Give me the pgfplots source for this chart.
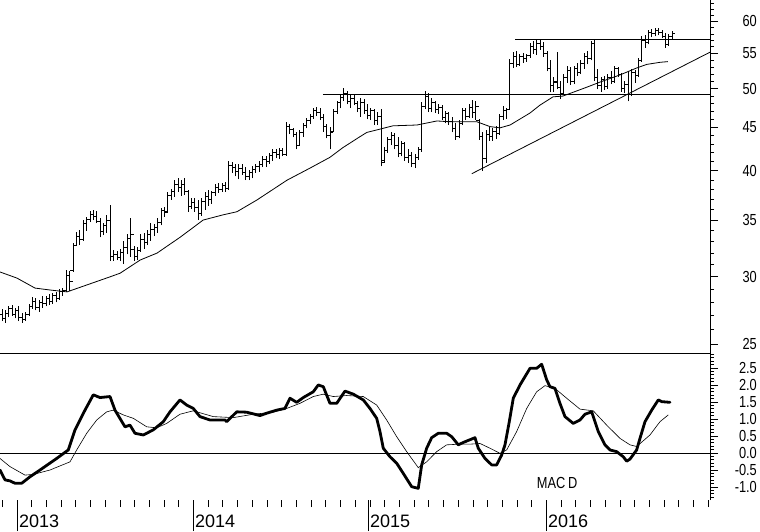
\documentclass[border=0pt]{standalone}
\usepackage{fontspec}
\setmainfont{Liberation Sans}
\newfontfamily\narrowfont[FakeStretch=0.8]{Liberation Sans}
\usepackage{pgfplots}
\usepackage{pgfplotstable}
\pgfplotsset{compat=1.18}
\pgfdeclareplotmark{otick}{\pgfpathmoveto{\pgfqpoint{-3pt}{0pt}}\pgfpathlineto{\pgfqpoint{0pt}{0pt}}\pgfusepathqstroke}
\pgfdeclareplotmark{ctick}{\pgfpathmoveto{\pgfqpoint{0pt}{0pt}}\pgfpathlineto{\pgfqpoint{3pt}{0pt}}\pgfusepathqstroke}

% weekly bars: week index, open, high, low, close
\pgfplotstableread{
i O H L C
0 27.1 27.5 26.6 26.8
1 26.8 27.4 26.5 27.2
2 27.2 27.7 26.9 27.5
3 27.5 27.8 27.0 27.1
4 27.1 27.6 26.8 27.4
5 27.4 27.7 26.6 26.9
6 26.9 27.2 26.5 26.7
7 26.7 27.3 26.6 27.1
8 27.1 27.9 27.0 27.7
9 27.7 28.4 27.5 28.1
10 28.1 28.3 27.4 27.6
11 27.6 28.2 27.3 28.0
12 28.0 28.5 27.6 27.9
13 27.9 28.5 27.7 28.3
14 28.3 28.6 27.8 28.1
15 28.1 28.7 27.9 28.5
16 28.5 28.8 28.0 28.3
17 28.3 29.0 28.2 28.8
18 28.8 29.1 28.5 28.9
19 28.9 30.6 28.8 30.1
20 30.1 30.5 28.9 29.6
21 30.5 32.9 30.4 32.7
22 32.7 33.9 32.6 33.5
23 33.5 34.1 32.7 33.2
24 33.2 35.0 33.1 34.7
25 34.7 35.3 34.0 35.1
26 35.1 35.9 34.8 35.5
27 35.5 36.0 35.0 35.3
28 35.3 35.9 34.7 34.9
29 34.9 35.2 33.4 33.9
30 33.9 34.7 33.6 34.5
31 34.5 35.5 33.8 35.0
32 35.0 36.5 31.3 31.7
33 31.7 32.3 31.3 31.9
34 31.9 32.2 31.4 31.6
35 31.6 32.4 31.3 32.1
36 32.1 33.1 31.1 32.5
37 32.5 33.7 31.9 33.3
38 33.3 35.2 31.7 33.7
39 32.3 32.6 31.3 31.7
40 31.7 32.5 31.4 32.2
41 32.2 33.7 32.1 33.2
42 33.2 33.8 32.4 32.9
43 32.9 34.1 32.7 33.7
44 33.7 34.7 33.1 34.1
45 34.1 34.6 33.5 34.3
46 34.3 35.2 33.8 34.8
47 34.8 36.2 34.5 35.9
48 35.9 36.3 35.3 35.7
49 35.8 37.8 35.7 37.4
50 37.4 38.1 37.0 37.8
51 37.8 39.0 37.3 38.6
52 38.6 39.2 37.8 38.2
53 38.2 39.0 37.4 38.6
54 38.6 39.2 37.5 37.8
55 37.8 38.0 35.8 36.3
56 36.3 37.2 36.1 36.7
57 36.7 37.2 35.8 36.2
58 36.2 37.0 35.0 35.6
59 35.6 37.2 35.4 36.8
60 36.8 37.8 36.0 37.3
61 37.3 38.0 36.4 37.0
62 37.0 37.9 36.6 37.7
63 37.7 38.6 37.4 38.2
64 38.2 38.7 37.7 38.0
65 38.0 38.7 37.8 38.4
66 38.4 38.8 37.8 38.1
67 38.1 41.1 38.0 40.6
68 40.6 41.0 39.8 40.4
69 40.4 40.8 39.4 39.9
70 39.9 40.7 39.1 40.3
71 40.3 40.8 39.6 39.8
72 39.8 40.4 39.0 39.4
73 39.4 40.1 39.0 39.8
74 39.8 40.5 39.2 40.1
75 40.1 40.8 39.8 40.5
76 40.5 41.1 39.9 40.7
77 40.7 41.7 40.4 41.3
78 41.3 41.6 40.4 41.0
79 41.0 42.0 40.8 41.7
80 41.7 42.4 41.1 42.1
81 42.1 42.5 41.4 41.8
82 41.8 42.6 41.3 42.3
83 42.3 42.6 41.6 41.8
84 41.8 45.7 41.7 45.1
85 45.1 45.4 44.2 44.7
86 44.7 44.9 43.8 44.1
87 44.1 44.5 42.4 42.9
88 42.9 44.7 42.8 44.4
89 44.4 45.5 43.9 45.2
90 45.2 46.2 44.9 45.9
91 45.9 46.7 45.4 46.4
92 46.4 47.4 46.1 47.1
93 47.1 47.6 46.4 46.9
94 46.9 47.5 45.9 46.2
95 46.2 46.7 44.5 45.1
96 45.1 45.4 43.7 44.0
97 44.0 45.1 42.4 44.4
98 44.5 47.3 44.4 47.0
99 47.0 48.4 46.7 48.1
100 48.1 49.1 47.4 48.8
101 48.8 50.1 48.4 49.4
102 49.4 49.7 47.9 48.3
103 48.3 49.2 47.5 48.7
104 48.7 49.1 47.8 48.0
105 48.0 48.3 46.9 47.4
106 47.4 48.8 46.3 48.2
107 48.2 48.6 46.7 47.1
108 47.1 47.9 46.0 46.5
109 46.5 47.5 45.9 47.1
110 47.1 47.3 45.3 45.9
111 45.9 46.9 45.3 46.4
112 46.4 47.3 40.5 40.9
113 41.1 42.7 40.9 42.3
114 42.3 43.9 42.0 43.5
115 43.5 44.5 42.9 44.0
116 44.0 44.3 42.4 42.9
117 42.9 43.8 41.5 41.9
118 41.9 43.4 41.6 43.1
119 43.1 43.3 41.1 41.5
120 41.5 42.4 40.9 41.7
121 41.7 42.1 40.4 40.8
122 40.8 41.9 40.3 41.5
123 41.5 42.7 41.2 42.4
124 42.4 48.2 42.1 47.7
125 47.7 49.7 47.3 48.9
126 48.9 49.4 46.9 47.4
127 47.4 48.7 46.9 48.2
128 48.2 48.4 46.8 47.2
129 47.2 48.0 46.7 47.5
130 47.5 47.8 45.9 46.3
131 46.3 47.1 45.5 46.7
132 46.7 46.9 45.3 45.7
133 45.7 46.3 44.4 44.9
134 44.9 45.5 43.5 43.9
135 43.9 45.9 43.7 45.5
136 45.5 47.5 45.3 47.1
137 47.1 47.4 45.9 46.4
138 46.4 47.9 46.2 47.5
139 47.5 48.5 46.2 46.9
140 46.9 48.3 45.9 47.7
141 45.9 46.1 43.5 43.9
142 43.9 44.5 40.0 41.4
143 41.4 44.7 40.9 44.1
144 44.1 45.1 43.4 43.9
145 43.9 44.9 43.4 44.5
146 44.5 45.2 43.6 44.3
147 44.3 46.7 44.1 46.4
148 46.4 47.7 45.9 47.1
149 47.1 47.5 46.1 47.3
150 47.3 54.2 47.2 53.6
151 53.6 55.2 52.9 54.6
152 54.6 55.4 53.0 53.4
153 53.4 55.0 53.2 54.5
154 54.5 55.1 53.6 54.2
155 54.2 55.0 53.8 54.7
156 54.7 56.6 54.4 56.1
157 56.1 56.9 55.0 55.6
158 55.6 57.0 54.8 56.5
159 56.5 57.1 55.6 56.0
160 56.0 56.8 54.5 55.0
161 55.0 55.4 52.4 52.8
162 52.8 54.0 49.5 50.4
163 50.4 51.6 49.6 50.8
164 51.0 55.2 49.9 50.2
165 50.2 51.0 48.6 49.4
166 49.4 52.0 49.2 51.6
167 51.6 53.2 50.8 52.5
168 52.5 53.0 50.5 51.0
169 51.0 53.2 50.6 52.8
170 52.8 53.6 51.8 52.2
171 52.2 54.0 52.0 53.6
172 53.6 55.1 52.8 54.6
173 54.6 55.4 53.4 54.2
174 54.2 56.9 54.0 56.5
175 56.5 57.2 51.0 51.5
176 51.5 52.7 49.9 50.4
177 50.4 51.6 49.6 51.2
178 51.2 51.8 49.8 50.3
179 50.3 52.0 50.0 51.6
180 51.6 52.4 50.6 51.0
181 51.0 53.2 50.8 52.8
182 52.8 53.0 51.6 52.0
183 52.0 52.2 49.6 50.0
184 50.0 51.0 49.4 50.6
185 50.6 52.4 48.3 49.2
186 49.2 52.7 49.0 52.2
187 52.2 52.6 50.8 51.8
188 51.8 54.3 51.6 54.0
189 54.0 57.6 53.8 57.0
190 57.0 57.8 55.9 56.6
191 56.6 58.6 56.4 58.2
192 58.2 58.8 57.5 58.0
193 58.0 58.9 57.6 58.5
194 58.5 58.9 57.8 58.3
195 58.3 58.6 57.3 57.6
196 57.6 58.2 55.9 56.4
197 56.4 58.0 56.2 57.6
198 57.6 58.4 57.2 58.0
}\bars

% moving average of price
\pgfplotstableread{
x y
-0.59 30.4
4.43 29.9
9.75 29.1
14.18 28.95
19.2 28.8
31.9 30.0
34.9 30.3
40.8 31.4
45.8 32.0
52.6 33.4
55.5 34.07
59.4 35.0
65.3 35.5
69.4 35.8
75.3 36.96
84.2 39.0
91.0 40.3
96.9 41.5
100.7 42.6
105.8 43.9
107.8 44.4
111.7 44.8
115.5 45.2
122.6 45.3
128.5 45.8
132.3 45.7
140.3 45.7
144.2 45.1
147.1 44.95
150.1 45.3
156.0 46.8
158.9 47.8
162.8 48.9
165.7 49.0
172.8 50.2
176.7 50.9
182.6 51.9
187.6 52.9
190.5 53.4
194.4 53.7
196.7 53.8
}\ma

% MACD line
\pgfplotstableread{
x y
-0.59 -0.50
0.89 -0.79
2.36 -0.82
3.84 -0.89
5.82 -0.89
8.27 -0.70
11.23 -0.50
16.16 -0.16
19.59 0.09
21.57 0.68
24.52 1.26
26.97 1.71
28.95 1.63
31.91 1.66
33.38 1.26
36.34 0.77
37.81 0.82
39.29 0.58
41.74 0.53
44.70 0.68
47.65 0.92
49.63 1.21
52.58 1.56
54.56 1.41
56.51 1.31
58.49 1.07
61.45 0.97
65.88 0.97
66.38 0.92
69.34 1.21
72.29 1.20
76.22 1.10
78.20 1.17
81.15 1.26
83.60 1.31
85.08 1.61
87.06 1.49
89.01 1.63
91.96 1.80
93.44 2.00
94.92 1.95
96.90 1.46
98.88 1.46
101.33 1.82
103.78 1.73
106.74 1.56
108.71 1.31
110.69 1.02
111.67 0.63
112.64 0.14
114.62 -0.11
116.60 -0.30
118.55 -0.60
121.03 -0.99
122.98 -1.04
123.99 -0.35
125.46 0.14
126.94 0.45
128.89 0.58
131.37 0.58
132.85 0.48
134.80 0.24
136.28 0.31
139.73 0.45
140.71 0.14
142.69 -0.16
144.67 -0.35
146.14 -0.35
147.62 -0.06
148.60 0.24
149.87 0.92
151.05 1.61
153.03 2.00
155.99 2.49
157.96 2.49
159.44 2.61
160.92 2.15
161.89 1.95
163.37 1.90
164.84 1.46
166.32 1.07
168.77 0.87
170.75 0.97
172.23 1.14
174.21 1.21
176.16 0.63
178.14 0.24
179.62 0.09
181.59 0.04
183.54 -0.11
184.55 -0.24
185.52 -0.18
187.50 0.09
188.48 0.43
189.96 0.92
191.94 1.26
193.89 1.56
194.89 1.51
197.34 1.49
}\macd

% signal line
\pgfplotstableread{
x y
-0.59 -0.16
2.36 -0.40
6.79 -0.65
9.25 -0.63
14.18 -0.50
20.09 -0.26
22.07 0.09
25.02 0.58
27.98 0.97
30.93 1.21
32.88 1.26
35.83 1.12
38.79 1.02
42.75 0.77
45.70 0.74
48.66 0.87
52.58 1.14
56.51 1.24
62.42 1.07
68.33 1.04
74.24 1.14
80.15 1.20
84.11 1.31
88.04 1.46
91.96 1.66
94.92 1.73
97.87 1.66
101.83 1.69
106.74 1.66
110.69 1.41
113.65 0.97
116.60 0.48
119.56 0.04
122.98 -0.43
125.46 -0.26
128.42 0.04
131.37 0.24
135.30 0.26
138.26 0.26
141.21 0.28
144.17 0.14
147.12 -0.01
149.10 0.09
152.05 0.63
155.01 1.31
157.96 1.80
160.41 1.98
163.37 1.90
166.82 1.61
170.75 1.29
174.68 1.24
178.64 0.82
182.57 0.43
185.52 0.24
187.50 0.19
191.43 0.53
194.39 0.92
196.84 1.12
}\signal

\begin{document}
\begin{tikzpicture}
\useasboundingbox (0pt,0pt) rectangle (760pt,531pt);
\pgfplotsset{
  common/.style={
    scale only axis, anchor=south west, width=710pt,
    xmin=-0.59, xmax=209.17,
    tick align=outside,
    every tick/.style={black, line width=0.8pt},
    axis line style={black, line width=0.8pt},
  },
  rightlabels/.style={
    yticklabel style={font=\narrowfont\fontsize{16}{16}\selectfont, anchor=east, inner sep=0pt, xshift=39pt},
  },
}
% price panel
\begin{axis}[common, rightlabels, at={(0pt,178pt)}, height=353pt,
  ymode=log, ymin=24.4, ymax=63.6,
  axis x line=none, axis y line*=right,
  ytick={25,30,35,40,45,50,55,60},
  yticklabels={25,30,35,40,45,50,55,60},
  minor ytick={24,26,27,28,29,31,32,33,34,36,37,38,39,41,42,43,44,46,47,48,49,51,52,53,54,56,57,58,59,61,62,63},
  major tick length=8pt, minor tick length=4pt]
\addplot[draw=none, mark=none,
  error bars/.cd, y dir=plus, y explicit, error mark=none,
  error bar style={draw=black, solid, line width=0.9pt}]
  table[x=i, y=L, y error expr=\thisrow{H}-\thisrow{L}] {\bars};
\addplot[only marks, mark=otick, mark options={black, line width=0.9pt}] table[x=i, y=O] {\bars};
\addplot[only marks, mark=ctick, mark options={black, line width=0.9pt}] table[x=i, y=C] {\bars};
\addplot[black, line width=0.8pt] table[x=x, y=y] {\ma};
\addplot[black, line width=0.9pt] coordinates {(94.8,49.15) (209.17,49.15)};
\addplot[black, line width=0.9pt] coordinates {(151.6,57.17) (209.17,57.17)};
\addplot[black, line width=0.8pt] coordinates {(138.8,39.7) (209.17,55.2)};
\end{axis}
% MACD panel
\begin{axis}[common, rightlabels, at={(0pt,31pt)}, height=147pt,
  ymin=-1.382, ymax=2.94,
  axis x line=none, axis y line*=right,
  ytick={-1,-0.5,0,0.5,1,1.5,2,2.5},
  yticklabels={-1.0,-0.5,0.0,0.5,1.0,1.5,2.0,2.5},
  minor ytick={-1.3,-1.2,-1.1,-0.9,-0.8,-0.7,-0.6,-0.4,-0.3,-0.2,-0.1,0.1,0.2,0.3,0.4,0.6,0.7,0.8,0.9,1.1,1.2,1.3,1.4,1.6,1.7,1.8,1.9,2.1,2.2,2.3,2.4,2.6,2.7,2.8,2.9},
  major tick length=8pt, minor tick length=4pt]
\draw[black, line width=0.9pt] (rel axis cs:0,1) -- (rel axis cs:1,1);
\addplot[black, line width=0.9pt] coordinates {(-0.59,0) (209.17,0)};
\addplot[black, line width=0.6pt] table[x=x, y=y] {\signal};
\addplot[black, line width=2.8pt, line join=round, line cap=round] table[x=x, y=y] {\macd};
\node[font=\narrowfont\fontsize{16}{16}\selectfont] at (axis cs:164,-0.88) {MAC\,D};
\end{axis}
% time axis
\begin{axis}[common, at={(0pt,31pt)}, height=147pt,
  ymin=0, ymax=1,
  axis y line=none, axis x line*=bottom,
  x axis line style={draw=none},
  xtick={4.43,56.43,108.12,160.7},
  xticklabels={2013,2014,2015,2016},
  minor xtick={0.085,4.43,...,209},
  major tick length=31pt, minor tick length=7pt,
  xticklabel style={font=\fontsize{18}{18}\selectfont, anchor=north west, inner sep=0pt, xshift=2pt, yshift=16pt}]
\end{axis}
\end{tikzpicture}
\end{document}
